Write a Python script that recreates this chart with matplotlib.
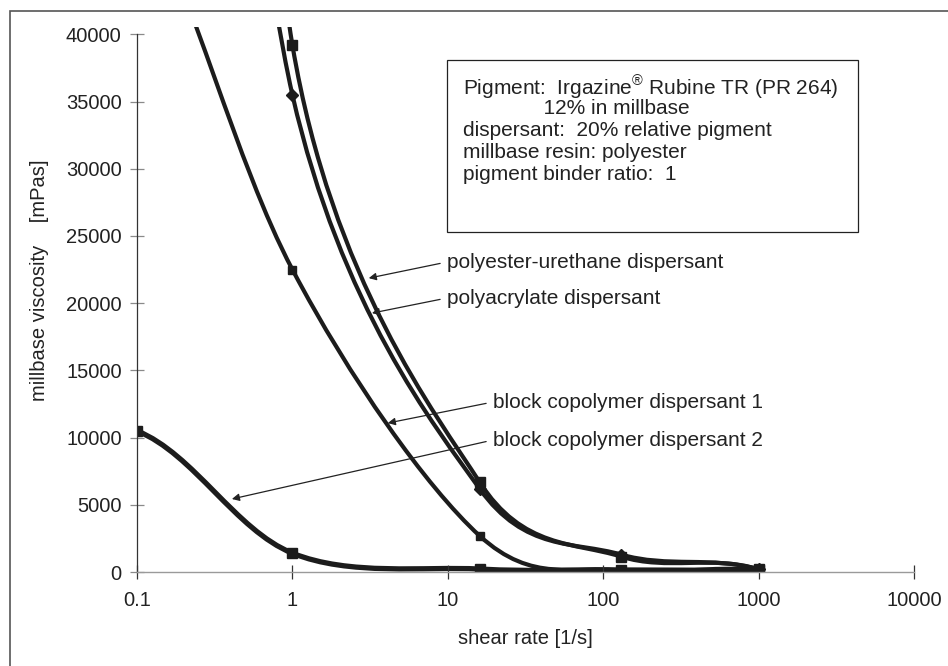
import numpy as np
import matplotlib
matplotlib.use('Agg')
import matplotlib.pyplot as plt
from matplotlib.path import Path
from matplotlib.patches import PathPatch, Rectangle

plt.rcParams['font.family'] = ['Liberation Sans', 'DejaVu Sans']
plt.rcParams['mathtext.fontset'] = 'custom'
plt.rcParams['mathtext.rm'] = 'Liberation Sans'

# data
shear_rate = [0.1, 1, 16, 130, 1000]
urethane = [158000, 39200, 6700, 1150, 200]
acrylate = [118000, 35500, 6200, 1300, 200]
block1 = [51000, 22500, 2700, 120, 120]
block2 = [10500, 1400, 220, 150, 120]

yticks = [0, 5000, 10000, 15000, 20000, 25000, 30000, 35000, 40000]
xticks = [0.1, 1, 10, 100, 1000, 10000]
xticklabels = ['0.1', '1', '10', '100', '1000', '10000']

info_lines = [r'Pigment:  Irgazine$^{\circledR}$ Rubine TR (PR 264)',
              '              12% in millbase',
              'dispersant:  20% relative pigment',
              'millbase resin: polyester',
              'pigment binder ratio:  1']

W, H = 948, 666
LINE = '#1c1c1c'


def fx(px):
    return px / W


def fy(py):
    return 1 - py / H


def smooth_path(ax, xs, ys):
    # smoothed line like a spreadsheet chart: bezier segments built in
    # display space, control arms limited to half the shorter neighbour segment
    P = ax.transData.transform(np.column_stack([xs, ys]))
    n = len(P)
    arms = np.zeros_like(P)
    for i in range(1, n - 1):
        d01 = np.hypot(*(P[i] - P[i - 1]))
        d12 = np.hypot(*(P[i + 1] - P[i]))
        d02 = np.hypot(*(P[i + 1] - P[i - 1]))
        f = min(1 / 6, min(d01, d12) / (2 * d02))
        arms[i] = f * (P[i + 1] - P[i - 1])
    verts = [P[0]]
    codes = [Path.MOVETO]
    for i in range(n - 1):
        if i == 0:
            c2 = P[1] - arms[1]
            c1 = P[0] + arms[1]
        elif i == n - 2:
            c1 = P[i] + arms[i]
            c2 = P[i + 1] - arms[i]
        else:
            c1 = P[i] + arms[i]
            c2 = P[i + 1] - arms[i + 1]
        verts += [c1, c2, P[i + 1]]
        codes += [Path.CURVE4] * 3
    verts = ax.transData.inverted().transform(np.array(verts))
    return Path(verts, codes)


fig = plt.figure(figsize=(W / 100, H / 100), dpi=100)
ax = fig.add_axes([fx(137), fy(572), fx(914) - fx(137), fy(27.3) - fy(572)])
ax.set_xscale('log')
ax.set_xlim(0.1, 10000)
ax.set_ylim(0, 40520)

series = [(urethane, 's', 6.5, 3.0), (acrylate, 'D', 6.5, 3.0),
          (block1, 's', 5.5, 3.0), (block2, 's', 6.5, 3.8)]
for ys, mk, ms, lw in series:
    ax.add_patch(PathPatch(smooth_path(ax, shear_rate, ys), fill=False,
                           ec=LINE, lw=lw, capstyle='round', joinstyle='round'))
    ax.plot(shear_rate, ys, ls='none', marker=mk, ms=ms, color=LINE)

for s in ['top', 'right']:
    ax.spines[s].set_visible(False)
ax.spines['left'].set_bounds(0, 40000)
ax.spines['left'].set_color('#333333')
ax.spines['left'].set_linewidth(0.9)
ax.spines['bottom'].set_color('#9a9a9a')
ax.spines['bottom'].set_linewidth(1.0)

ax.set_yticks(yticks)
ax.set_yticklabels([str(v) for v in yticks])
ax.set_xticks(xticks)
ax.set_xticklabels(xticklabels)
ax.minorticks_off()
ax.tick_params(axis='y', direction='inout', length=10, width=0.9, color='#8a8a8a',
               labelsize=14.5, pad=6, labelcolor='#222222')
ax.tick_params(axis='x', direction='inout', length=10, width=0.9, color='#333333',
               labelsize=14.5, pad=9, labelcolor='#222222')

ax.set_xlabel('shear rate [1/s]', fontsize=14.5, color='#222222', labelpad=13)
fig.text(fx(40), fy(280), 'millbase viscosity    [mPas]', rotation=90,
         fontsize=14.5, color='#222222', ha='center', va='center')

# info box
fig.add_artist(Rectangle((fx(447), fy(232)), fx(858) - fx(447), fy(60) - fy(232),
                         transform=fig.transFigure, fill=False, ec='#222222', lw=0.9))
for k, line in enumerate(info_lines):
    fig.text(fx(463), fy(87 + 22 * k), line, fontsize=15, color='#222222',
             ha='left', va='center')

# outer frame
fig.add_artist(Rectangle((fx(10), -0.1), 2, fy(11) + 0.1, transform=fig.transFigure,
                         fill=False, ec='#555555', lw=1.2))

# labels with arrows
labels = [('polyester-urethane dispersant', (3.10, 21860), (447, 262)),
          ('polyacrylate dispersant', (3.25, 19260), (447, 298)),
          ('block copolymer dispersant 1', (4.11, 11080), (493, 402)),
          ('block copolymer dispersant 2', (0.408, 5430), (493, 440))]
for txt, tip, pos in labels:
    ax.annotate(txt, xy=tip, xycoords='data', xytext=(pos[0], H - pos[1]),
                textcoords='figure pixels', fontsize=15, color='#222222',
                ha='left', va='center',
                arrowprops=dict(arrowstyle='-|>', color='#222222', lw=0.9,
                                mutation_scale=11, shrinkA=3, shrinkB=0,
                                relpos=(0, 0.5)))

fig.savefig('out.png', dpi=100)
